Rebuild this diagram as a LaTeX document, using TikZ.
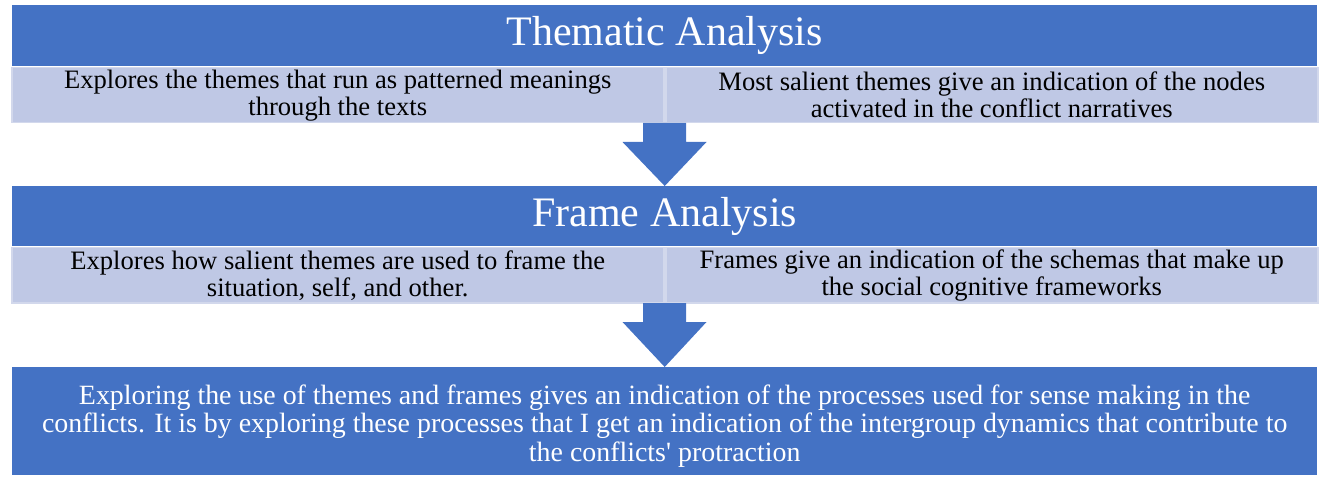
\documentclass[tikz,border=0pt]{standalone}
\usepackage{fontspec}
\setmainfont{Liberation Serif}[Ligatures=TeXOff]
\definecolor{bblue}{RGB}{68,114,196}
\definecolor{lblue}{RGB}{191,200,229}
\definecolor{lborder}{RGB}{210,216,236}
\begin{document}
\begin{tikzpicture}[x=1pt,y=-1pt,
  title/.style={fill=bblue,draw=none,text=white,font=\fontsize{42}{46}\selectfont,inner sep=0pt,anchor=north west},
  sub/.style={fill=lblue,draw=lborder,line width=1.5pt,text=black,align=center,font=\fontsize{26.6}{27}\selectfont,inner sep=0pt,anchor=north west},
  bottom/.style={fill=bblue,draw=none,inner sep=0pt,anchor=north west},
  bottomtext/.style={text=white,align=center,font=\fontsize{27.9}{28.5}\selectfont,inner sep=0pt},
  arr/.style={fill=bblue,draw=none}]
\useasboundingbox (0,0) rectangle (1319,478);
% first block
\node[title,minimum width=1305pt,minimum height=61pt] (t1) at (12,5) {Thematic Analysis};
\node[sub,minimum width=652pt,minimum height=55pt] (a1) at (11,67) {Explores the themes that run as patterned meanings\\through the texts};
\node[sub,minimum width=652pt,minimum height=55pt] (b1) at (665,67) {Most salient themes give an indication of the nodes\\activated in the conflict narratives};
% second block
\node[title,minimum width=1305pt,minimum height=60pt] (t2) at (12,186) {Frame Analysis};
\node[sub,minimum width=652pt,minimum height=55pt] (a2) at (11,247) {Explores how salient themes are used to frame the\\situation, self, and other.};
\node[sub,minimum width=652pt,minimum height=55pt] (b2) at (665,247) {Frames give an indication of the schemas that make up\\the social cognitive frameworks};
% bottom
\node[bottom,minimum width=1305pt,minimum height=108pt] (c) at (12,367) {};
\node[bottomtext] (ct) at ([yshift=-4.5pt]c.center) {Exploring the use of themes and frames gives an indication of the processes used for sense making in the\\conflicts. It is by exploring these processes that I get an indication of the intergroup dynamics that contribute to\\the conflicts' protraction};
% arrows
\coordinate (s1) at (664.5,123);
\coordinate (e1) at (t2.north);
\fill[arr] ([xshift=-21.5pt]s1) -- ([xshift=21.5pt]s1) -- ([xshift=21.5pt,yshift=-19pt]s1) -- ([xshift=42pt,yshift=-19pt]s1) -- (e1) -- ([xshift=-42pt,yshift=-19pt]s1) -- ([xshift=-21.5pt,yshift=-19pt]s1) -- cycle;
\coordinate (s2) at (664.5,303);
\coordinate (e2) at (c.north);
\fill[arr] ([xshift=-21.5pt]s2) -- ([xshift=21.5pt]s2) -- ([xshift=21.5pt,yshift=-19pt]s2) -- ([xshift=42pt,yshift=-19pt]s2) -- (e2) -- ([xshift=-42pt,yshift=-19pt]s2) -- ([xshift=-21.5pt,yshift=-19pt]s2) -- cycle;
\end{tikzpicture}
\end{document}
